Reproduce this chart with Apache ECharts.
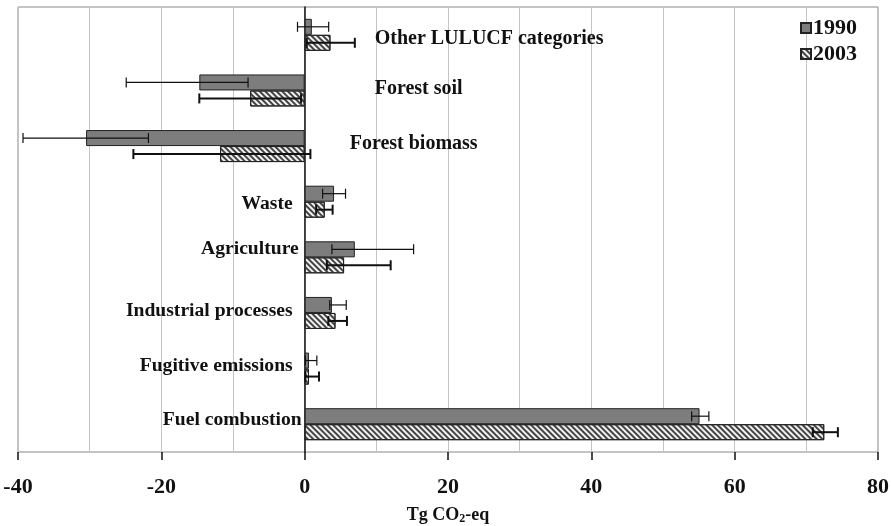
<!DOCTYPE html>
<html><head><meta charset="utf-8">
<script src="https://cdn.jsdelivr.net/npm/echarts@6/dist/echarts.min.js"></script>
<style>html,body{margin:0;padding:0;background:#fff}#c{width:891px;height:526px}</style>
</head><body><div id="c"></div>
<script>
// Categories from bottom to top
const categories = ['Fuel combustion','Fugitive emissions','Industrial processes','Agriculture','Waste','Forest biomass','Forest soil','Other LULUCF categories'];
const seriesNames = ['1990','2003'];
const values1990 = [55.1, 0.6, 3.8, 7.0, 4.1, -30.5, -14.7, 1.0];
const low1990    = [54.0, 0.1, 3.5, 3.8, 2.5, -39.3, -24.9, -1.0];
const high1990   = [56.4, 1.7, 5.8, 15.2, 5.7, -21.8, -7.9, 3.35];
const values2003 = [72.5, 0.6, 4.3, 5.5, 2.8, -11.8, -7.6, 3.6];
const low2003    = [70.9, 0.1, 3.3, 3.1, 1.6, -23.9, -14.7, 0.3];
const high2003   = [74.4, 2.0, 5.9, 12.0, 3.9, 0.8, -0.5, 7.0];
const xMin = -40, xMax = 80, xStep = 20;
const axisTitle = ['Tg CO', '2', '-eq'];

const FONT = '"Liberation Serif","Times New Roman",serif';
const INK = '#111';

const leftRich = {
  c0: {padding:[0,0,8,0]},
  c1: {padding:[0,9,6,0]},
  c2: {padding:[0,9,4,0]},
  c3: {padding:[0,3,16,0]},
  c4: {padding:[4,9,0,0]}
};
const rightRich = {
  c5: {padding:[0,0,4,0]},
  c6: {padding:[0,0,4,25]},
  c7: {padding:[8,0,0,25]}
};

function errRender(off, lw) {
  return function (params, api) {
    const c = api.value(0);
    const a = api.coord([api.value(1), c]);
    const b = api.coord([api.value(2), c]);
    const y = a[1] + off;
    const h = 5;
    const style = {stroke: INK, lineWidth: lw, fill: null};
    return {type: 'group', children: [
      {type: 'line', shape: {x1: a[0], y1: y, x2: b[0], y2: y}, style: style},
      {type: 'line', shape: {x1: a[0], y1: y - h, x2: a[0], y2: y + h}, style: style},
      {type: 'line', shape: {x1: b[0], y1: y - h, x2: b[0], y2: y + h}, style: style}
    ]};
  };
}

const chart = echarts.init(document.getElementById('c'), null, {renderer: 'canvas'});
const gridLine = {color: '#c4c4c4', width: 1};
chart.setOption({
  animation: false,
  backgroundColor: '#fff',
  textStyle: {fontFamily: FONT},
  grid: {left: 18, right: 13, top: 7, bottom: 74, show: true, borderColor: '#888', borderWidth: 1,
         containLabel: false, outerBoundsMode: 'none'},
  legend: {
    data: seriesNames, orient: 'vertical', left: 795, top: 12,
    itemWidth: 10, itemHeight: 10, itemGap: 4, icon: 'rect',
    textStyle: {fontFamily: FONT, fontWeight: 'bold', fontSize: 22, color: INK, lineHeight: 22, padding: [0,0,0,-3]}
  },
  xAxis: [{
    type: 'value', min: xMin, max: xMax, interval: xStep,
    axisLine: {onZero: false, lineStyle: {color: INK, width: 1.5}},
    axisTick: {show: true, length: 8, lineStyle: {color: INK, width: 1.5}},
    minorTick: {show: false, splitNumber: 2},
    splitLine: {show: true, lineStyle: gridLine},
    minorSplitLine: {show: true, lineStyle: gridLine},
    axisLabel: {fontFamily: FONT, fontWeight: 'bold', fontSize: 22, color: INK, margin: 24},
    name: '{a|' + axisTitle[0] + '}{s|' + axisTitle[1] + '}{a|' + axisTitle[2] + '}',
    nameLocation: 'middle', nameGap: 53,
    nameTextStyle: {fontFamily: FONT, fontWeight: 'bold', fontSize: 18, color: INK,
      rich: {a: {fontFamily: FONT, fontWeight: 'bold', fontSize: 18, color: INK},
             s: {fontFamily: FONT, fontWeight: 'bold', fontSize: 12, color: INK, padding: [8,0,0,0]}}}
  }],
  yAxis: [{
    type: 'category', data: categories, position: 'left',
    axisLine: {show: true, onZero: false, lineStyle: {color: INK, width: 1.5}},
    axisTick: {show: false},
    splitLine: {show: false},
    axisLabel: {
      margin: 3, fontFamily: FONT, fontWeight: 'bold', fontSize: 19.6, color: INK, rich: leftRich,
      formatter: function (v, i) { return i <= 4 ? '{c' + i + '|' + v + '}' : ''; }
    }
  }, {
    type: 'category', data: categories, position: 'right',
    axisLine: {show: false, onZero: false},
    axisTick: {show: false},
    splitLine: {show: false},
    axisLabel: {
      margin: 45, fontFamily: FONT, fontWeight: 'bold', fontSize: 20, color: INK, rich: rightRich,
      formatter: function (v, i) { return i >= 5 ? '{c' + i + '|' + v + '}' : ''; }
    }
  }],
  series: [{
    name: seriesNames[0], type: 'bar', data: values1990, barWidth: 16, barGap: '0%',
    itemStyle: {color: '#7d7d7d', borderColor: '#222', borderWidth: 1}
  }, {
    name: seriesNames[1], type: 'bar', data: values2003, barWidth: 16, barGap: '0%',
    itemStyle: {color: '#f2f2f2', borderColor: '#222', borderWidth: 1,
      decal: {symbol: 'rect', symbolSize: 1, dashArrayX: [1, 0], dashArrayY: [1.5, 1.5], rotation: Math.PI / 4, color: '#444'}}
  }, {
    name: 'err1990', type: 'custom', renderItem: errRender(-8, 1.2), z: 5,
    data: categories.map((_, i) => [i, low1990[i], high1990[i]]), encode: {x: [1, 2], y: 0}
  }, {
    name: 'err2003', type: 'custom', renderItem: errRender(8, 2), z: 5,
    data: categories.map((_, i) => [i, low2003[i], high2003[i]]), encode: {x: [1, 2], y: 0}
  }]
});

// Move both category axes onto the value axis' zero, using the library's own scale.
const zeroX = chart.convertToPixel({xAxisIndex: 0}, 0);
const leftX = chart.convertToPixel({xAxisIndex: 0}, xMin);
const rightX = chart.convertToPixel({xAxisIndex: 0}, xMax);
chart.setOption({yAxis: [{offset: leftX - zeroX}, {offset: zeroX - rightX}]});
</script></body></html>
